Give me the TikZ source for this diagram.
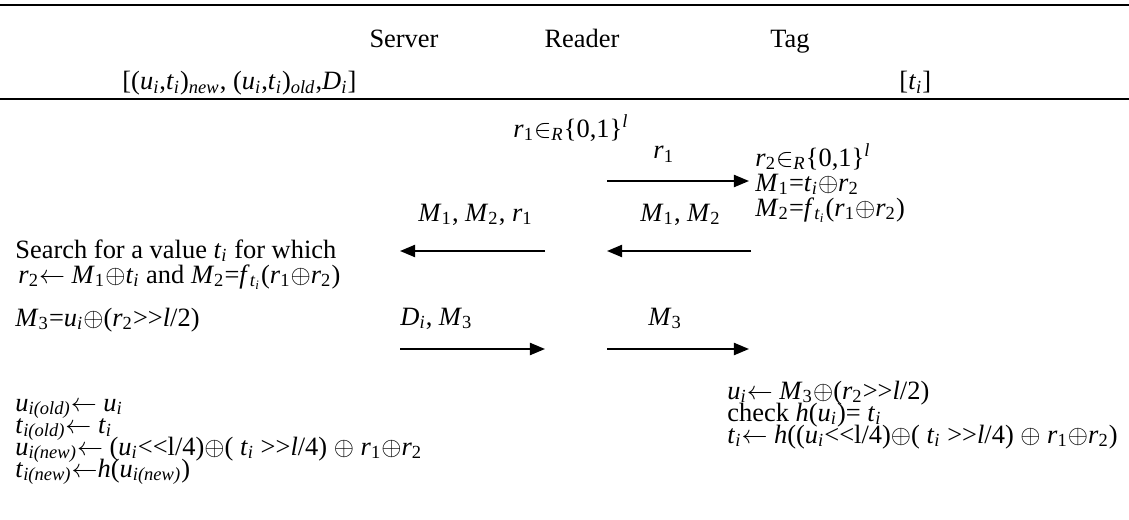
\documentclass[tikz,border=0pt]{standalone}
\usepackage{fontspec}
\setmainfont[Ligatures=TeXOff]{Liberation Serif}
\usetikzlibrary{arrows.meta}

% italic variable with italic / upright subscript
\newcommand\vi[2]{\textit{#1}\textsubscript{\textit{#2}}}
\newcommand\vu[2]{\textit{#1}\textsubscript{#2}}
\newcommand\xorop{$\oplus$}
\newcommand\getsarr{$\leftarrow$}
\newcommand\elemof{$\in$}

\tikzset{
  txt/.style={anchor=base west, inner sep=0pt, font=\fontsize{12.2}{12}\selectfont},
  head/.style={anchor=base, inner sep=0pt, font=\fontsize{12.2}{12}\selectfont},
  msg/.style={line width=0.95pt, -{Triangle[length=7pt, width=5.6pt]}},
  rule/.style={line width=1.3pt}
}

\begin{document}
\begin{tikzpicture}[x=0.46154pt, y=-0.46154pt]
\useasboundingbox (0,0) rectangle (1129,519);

% table rules
\coordinate (r1l) at (0,5);    \coordinate (r1r) at (1129,5);
\coordinate (r2l) at (0,99);   \coordinate (r2r) at (1129,99);
\draw[rule] (r1l) -- (r1r);
\draw[rule] (r2l) -- (r2r);

% parties and their stored values
\node[head] (server) at (404,48) {Server};
\node[head] (reader) at (582,48) {Reader};
\node[head] (tag)    at (790,48) {Tag};
\node[txt] (sdata) at (122,90) {[(\vi{u}{i},\vi{t}{i})\textsubscript{\textit{new}}, (\vi{u}{i},\vi{t}{i})\textsubscript{\textit{old}},\vi{D}{i}]};
\node[txt] (tdata) at (899,90) {[\vi{t}{i}]};

% reader nonce
\node[txt] (rnonce) at (513,137) {\vu{r}{1}\elemof\textsubscript{\textit{R}}\{0,1\}\textsuperscript{\textit{l}}};

% tag computations
\node[txt] (tg1) at (755,166) {\vu{r}{2}\elemof\textsubscript{\textit{R}}\{0,1\}\textsuperscript{\textit{l}}};
\node[txt] (tg2) at (755,191) {\vu{M}{1}=\vi{t}{i}\xorop\vu{r}{2}};
\node[txt] (tg3) at (755,216) {\vu{M}{2}=\textit{f}\textsubscript{\textit{t}\textsubscript{\textit{i}}}(\vu{r}{1}\xorop\vu{r}{2})};

% message labels
\node[txt] (lr1)   at (653,159) {\vu{r}{1}};
\node[txt] (lm12)  at (640,221) {\vu{M}{1}, \vu{M}{2}};
\node[txt] (lm12r) at (418,221) {\vu{M}{1}, \vu{M}{2}, \vu{r}{1}};
\node[txt] (ldm)   at (400,325) {\vi{D}{i}, \vu{M}{3}};
\node[txt] (lm3)   at (648,325) {\vu{M}{3}};

% message arrows
\coordinate (a1s) at (607,181); \coordinate (a1e) at (749,181);
\coordinate (a2s) at (751,251); \coordinate (a2e) at (607,251);
\coordinate (a3s) at (545,251); \coordinate (a3e) at (400,251);
\coordinate (a4s) at (400,349); \coordinate (a4e) at (545,349);
\coordinate (a5s) at (607,349); \coordinate (a5e) at (749,349);
\draw[msg] (a1s) -- (a1e);
\draw[msg] (a2s) -- (a2e);
\draw[msg] (a3s) -- (a3e);
\draw[msg] (a4s) -- (a4e);
\draw[msg] (a5s) -- (a5e);

% server computations
\node[txt] (sv1) at (15,258) {Search for a value \vi{t}{i} for which};
\node[txt] (sv2) at (18,283) {\vu{r}{2}\getsarr{} \vu{M}{1}\xorop\vi{t}{i} and \vu{M}{2}=\textit{f}\textsubscript{\textit{t}\textsubscript{\textit{i}}}(\vu{r}{1}\xorop\vu{r}{2})};
\node[txt] (sv3) at (15,326) {\vu{M}{3}=\vi{u}{i}\xorop(\vu{r}{2}>>\textit{l}/2)};
\node[txt] (sv4) at (15,411) {\vi{u}{i(old)}\getsarr{} \vi{u}{i}};
\node[txt] (sv5) at (15,433) {\vi{t}{i(old)}\getsarr{} \vi{t}{i}};
\node[txt] (sv6) at (15,455) {\vi{u}{i(new)}\getsarr{} (\vi{u}{i}<<l/4)\xorop( \vi{t}{i} >>\textit{l}/4) \xorop{} \vu{r}{1}\xorop\vu{r}{2}};
\node[txt] (sv7) at (15,477) {\vi{t}{i(new)}\getsarr\textit{h}(\vi{u}{i(new)})};

% tag update
\node[txt] (tu1) at (727,399) {\vi{u}{i}\getsarr{} \vu{M}{3}\xorop(\vu{r}{2}>>\textit{l}/2)};
\node[txt] (tu2) at (727,421) {check \textit{h}(\vi{u}{i})= \vi{t}{i}};
\node[txt] (tu3) at (727,443) {\vi{t}{i}\getsarr{} \textit{h}((\vi{u}{i}<<l/4)\xorop( \vi{t}{i} >>\textit{l}/4) \xorop{} \vu{r}{1}\xorop\vu{r}{2})};
\end{tikzpicture}
\end{document}
